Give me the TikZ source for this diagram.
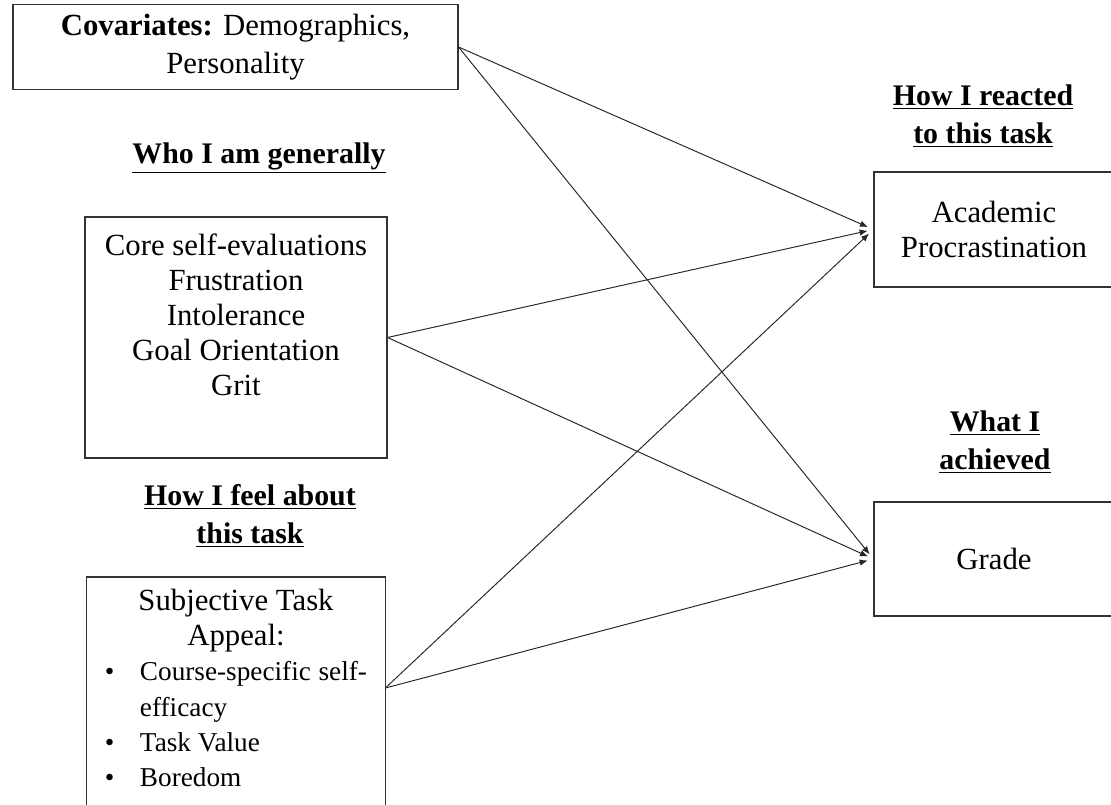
\documentclass[tikz,border=0pt]{standalone}
\usepackage{fontspec}
\setmainfont{Liberation Serif}
\usetikzlibrary{arrows.meta}

\begin{document}
\begin{tikzpicture}[x=0.2mm, y=-0.2mm, font=\fontsize{17.5}{20}\selectfont]
\tikzstyle{box}=[rectangle, draw=black!80, line width=0.6pt, align=center, inner sep=2mm]
\tikzstyle{head}=[align=center, font=\fontsize{17}{21.5}\selectfont\bfseries]
\tikzstyle{connect}=[-{Latex[length=1.6mm, width=1.3mm]}, line width=0.55pt, black!85, shorten >=1.2mm]
\useasboundingbox (0,0) rectangle (1111,805);
\clip (0,0) rectangle (1111,805);
% left column
\node[box, minimum width=89mm, minimum height=15.4mm, font=\fontsize{17.5}{21.5}\selectfont] (cov) at (235.5,47)
  {\textbf{Covariates:} Demographics,\\ Personality};
\node[head] (who) at (259,158) {\underline{Who I am generally}};
\node[box, minimum width=60.4mm, minimum height=48.2mm] (core) at (236,337.5)
  {Core self-evaluations\\ Frustration\\ Intolerance\\ Goal Orientation\\ Grit\\ \strut};
\node[head] (feel) at (250,516) {\underline{How I feel about}\\ \underline{this task}};
\node[align=left, anchor=north, inner xsep=3.6mm, inner ysep=2.4mm] (appeal) at (236,577)
  {\makebox[52.4mm][c]{Subjective Task}\\
   \makebox[52.4mm][c]{Appeal:}\\
   \fontsize{15.5}{18.8}\selectfont\makebox[7mm][l]{•}\makebox[45.4mm][s]{Course-specific self-}\\
   \fontsize{15.5}{18.8}\selectfont\makebox[7mm][l]{}efficacy\\
   \fontsize{15.5}{18.8}\selectfont\makebox[7mm][l]{•}Task Value\\
   \fontsize{15.5}{18.8}\selectfont\makebox[7mm][l]{•}Boredom};
\draw[black!80, line width=0.6pt] (appeal.north west) rectangle ([yshift=-10mm]appeal.south east);
% right column
\node[head] (react) at (983,116) {\underline{How I reacted}\\ \underline{to this task}};
\node[box, minimum width=48mm, minimum height=23mm] (proc) at (994,229.5)
  {Academic\\ Procrastination};
\node[head] (ach) at (995,442) {\underline{What I}\\ \underline{achieved}};
\node[box, minimum width=48mm, minimum height=22.8mm] (grade) at (994,559) {Grade};
% paths
\path (cov.east) edge [connect] (proc.west);
\path (cov.east) edge [connect] (grade.west);
\path (core.east) edge [connect] (proc.west);
\path (core.east) edge [connect] (grade.west);
\path (appeal.east) edge [connect] (proc.west);
\path (appeal.east) edge [connect] (grade.west);
\end{tikzpicture}
\end{document}
